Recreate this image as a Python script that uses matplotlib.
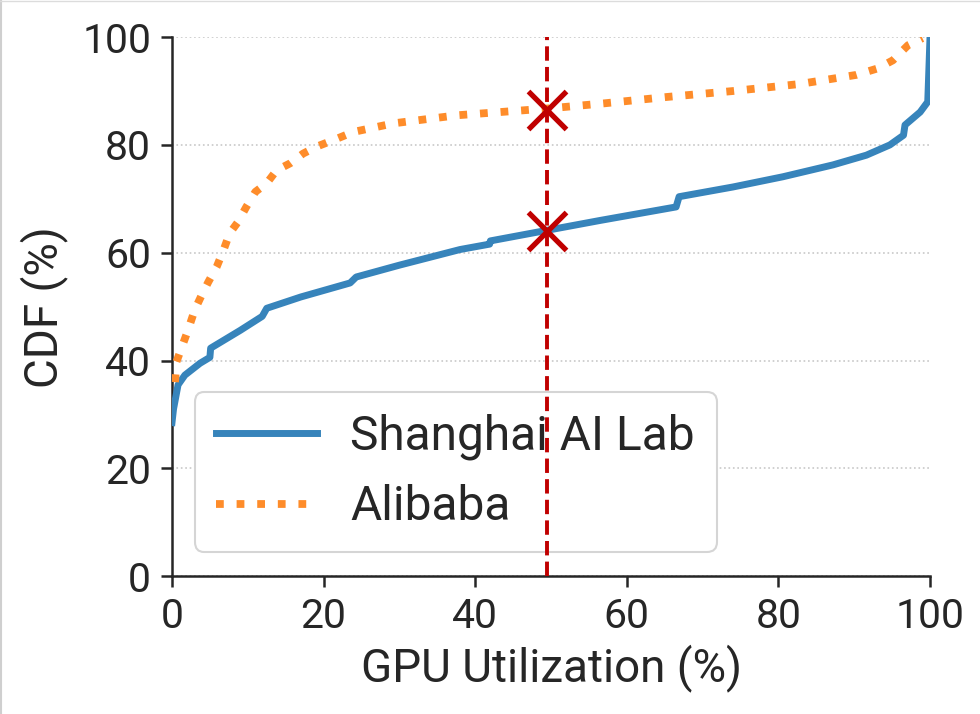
import matplotlib
matplotlib.use("Agg")
import matplotlib.pyplot as plt
from matplotlib.lines import Line2D

plt.rcParams['font.family'] = ['Roboto', 'DejaVu Sans']

# Shanghai AI Lab CDF (GPU utilization %, CDF %)
sh_x = [0.0, 0.2, 0.8, 1.7, 3.7, 5.0, 5.1, 9.0, 11.9, 12.5, 17.0, 23.5, 24.3,
        30.0, 38.0, 41.9, 42.0, 50.0, 56.5, 66.5, 66.9, 74.0, 80.6, 87.2, 91.6,
        94.7, 96.5, 96.7, 98.7, 99.7, 100.0]
sh_y = [28.5, 31.0, 35.5, 37.3, 39.5, 40.6, 42.3, 45.6, 48.2, 49.7, 51.8, 54.4, 55.5,
        57.7, 60.6, 61.6, 62.2, 64.3, 66.0, 68.5, 70.4, 72.2, 74.1, 76.3, 78.1,
        80.0, 81.8, 83.7, 86.1, 88.0, 100.0]

# Alibaba CDF
al_x = [0.4, 0.6, 2.1, 3.0, 3.9, 4.8, 5.9, 6.8, 7.6, 8.7, 9.8, 11.0, 12.5, 13.8,
        15.6, 17.3, 19.1, 21.3, 23.9, 29.2, 37.6, 49.9, 56.9, 65.3, 74.0, 82.8,
        90.3, 93.1, 95.1, 97.1, 99.0]
al_y = [36.0, 39.8, 45.6, 49.4, 52.1, 54.6, 57.4, 60.5, 63.6, 65.7, 68.5, 71.3, 72.9, 75.3,
        76.6, 78.4, 79.7, 80.9, 82.4, 84.0, 85.5, 86.8, 87.7, 88.9, 90.0, 91.3,
        93.0, 94.2, 95.7, 98.5, 99.8]

labels = ["Shanghai AI Lab", "Alibaba"]
marker_x = [49.5, 49.5]
marker_y = [86.5, 64.0]
vline_x = 49.5
ticks = [0, 20, 40, 60, 80, 100]

blue = '#3784bb'
orange = '#fe8c2a'
red = '#c00000'
text_c = '#262626'

fig = plt.figure(figsize=(9.8, 7.14), dpi=100)
ax = fig.add_axes([0.1755, 0.193, 0.7735, 0.755])

ax.plot(sh_x, sh_y, color=blue, lw=5.0, label=labels[0], zorder=3)
ax.plot(al_x, al_y, color=orange, lw=5.6, linestyle=':', label=labels[1], zorder=3)
ax.axvline(vline_x, color=red, lw=2.8, linestyle='--', zorder=6)
ax.plot(marker_x, marker_y, linestyle='none', marker='x', ms=28, mew=3.8, color=red, zorder=7)

ax.set_xlim(0, 100)
ax.set_ylim(0, 100)
ax.set_xticks(ticks)
ax.set_yticks(ticks)
ax.tick_params(labelsize=29.5, length=8, width=1.8, colors=text_c, pad=7)
for s in ['top', 'right']:
    ax.spines[s].set_visible(False)
for s in ['left', 'bottom']:
    ax.spines[s].set_linewidth(1.8)
    ax.spines[s].set_color(text_c)
ax.yaxis.grid(True, linestyle=':', color='#c8c8c8', lw=1.2)
ax.set_axisbelow(True)

ax.set_xlabel("GPU Utilization (%)", fontsize=33, color=text_c, labelpad=6)
ax.set_ylabel("CDF (%)", fontsize=33, color=text_c, labelpad=10)

leg = ax.legend(loc='lower left', bbox_to_anchor=(0.03, 0.045), borderaxespad=0,
                fontsize=34.5, handlelength=2.1, handletextpad=0.7, borderpad=0.45,
                labelspacing=0.5, frameon=True, fancybox=True)
leg.get_frame().set_edgecolor('#d5d5d5')
leg.get_frame().set_linewidth(1.5)
leg.get_frame().set_alpha(1.0)
leg.set_zorder(5)
for t in leg.get_texts():
    t.set_color(text_c)

# thin light border at the top and left edges of the image
fig.add_artist(Line2D([0.0015, 0.0015], [0, 1], transform=fig.transFigure,
                      color='#cfcfcf', lw=1.5))
fig.add_artist(Line2D([0, 1], [0.999, 0.999], transform=fig.transFigure,
                      color='#dcdcdc', lw=1.0))

fig.savefig('out.png', dpi=100)
